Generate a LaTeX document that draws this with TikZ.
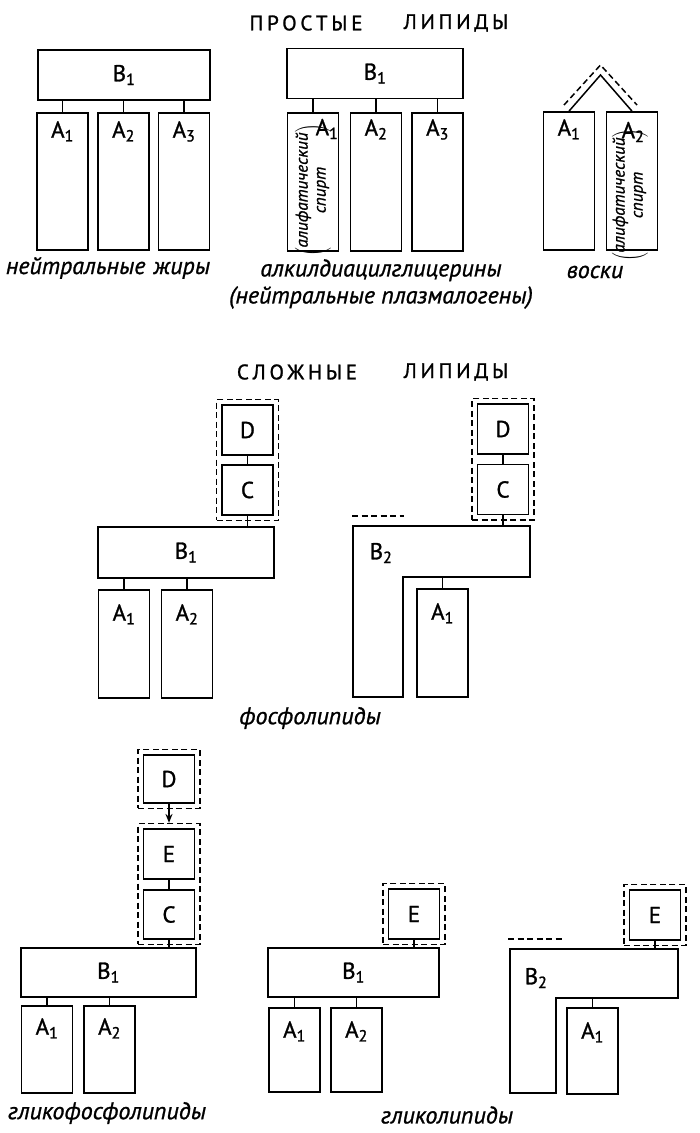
\documentclass[tikz,border=0pt]{standalone}
\usepackage{fontspec}
\setmainfont{PT Sans}
\usetikzlibrary{positioning,fit,arrows.meta}

\tikzset{
  box/.style={draw, line width=1.7pt, inner sep=0pt, minimum width=51pt, minimum height=50pt, font=\fontsize{23}{23}\selectfont\addfontfeature{FakeBold=1.2}},
  wide/.style={box, minimum width=#1},
  col/.style={box, minimum height=#1, minimum width=51pt},
  frame/.style={line width=1.7pt, line join=miter},
  bond/.style={line width=1.5pt},
  halo/.style={dash pattern=on 6pt off 3.5pt, line width=1.5pt},
  shell/.style={draw, halo, inner sep=4.5pt},
  tag/.style={inner sep=0pt, font=\fontsize{23}{23}\selectfont\addfontfeature{FakeBold=1.2}},
  caption/.style={inner sep=0pt, align=center, font=\fontsize{24}{27}\selectfont\itshape\addfontfeature{FakeBold=1}},
  heading/.style={inner sep=0pt, font=\fontsize{21}{21}\selectfont\addfontfeature{LetterSpace=18,FakeBold=1.2}},
  alc/.style={rotate=90, inner sep=0pt, font=\fontsize{17}{18}\selectfont\itshape\addfontfeature{FakeBold=1}}
}

\begin{document}
\begin{tikzpicture}[x=1pt,y=-1pt]
\useasboundingbox (0,0) rectangle (700,1133);

% простые липиды
\node[heading] (st1) at (306,23) {ПРОСТЫЕ};
\node[heading] (st2) at (456,23) {ЛИПИДЫ};

% нейтральные жиры
\node[wide=172pt] (fb) at (124,75) {B\textsubscript{1}};
\foreach \n/\x in {1/62.5,2/123.5,3/184}
{
	\node[col=137pt] (fa\n) at (\x,181.5) {};
	\node[tag, below=9pt of fa\n.north] (fa\n t) {A\textsubscript{\n}};
	\draw[bond] (fa\n.north) -- (fa\n.north |- fb.south);
}
\node[caption] (fcap) at (108,268) {нейтральные\hspace{8pt}жиры};

% плазмалогены
\node[wide=176pt] (pb) at (375,73.5) {B\textsubscript{1}};
\foreach \n/\x in {1/313,2/376,3/437.5}
{
	\node[col=138pt] (pa\n) at (\x,182) {};
	\draw[bond] (pa\n.north) -- (pa\n.north |- pb.south);
}
\node[tag] (pa1t) at (327,129) {A\textsubscript{1}};
\node[tag, below=7pt of pa2.north] (pa2t) {A\textsubscript{2}};
\node[tag, below=7pt of pa3.north] (pa3t) {A\textsubscript{3}};
\node[alc] (palc) at (313,190) {$\left(\begin{tabular}{@{}c@{}}алифатический\\спирт\end{tabular}\right)$};
\node[caption] (pcap) at (381,284) {алкилдиацилглицерины\\(нейтральные плазмалогены)};

% воски
\node[col=138pt] (wa1) at (569,181) {};
\node[col=138pt] (wa2) at (632,181) {};
\node[tag, below=8pt of wa1.north] (wa1t) {A\textsubscript{1}};
\node[tag] (wa2t) at (633,132) {A\textsubscript{2}};
\node[alc] (walc) at (630,195) {$\left(\begin{tabular}{@{}c@{}}алифатический\\спирт\end{tabular}\right)$};
\coordinate (wtop) at (600.5,75);
\draw[bond] (wa1.north) -- (wtop) -- (wa2.north);
\draw[halo] (564,105) -- (600.5,65) -- (637,105);
\node[caption] (wcap) at (595,272) {воски};

% сложные липиды
\node[heading] (ct1) at (297,372) {СЛОЖНЫЕ};
\node[heading] (ct2) at (456,372) {ЛИПИДЫ};

% фосфолипиды, B1
\node[box] (md) at (247.5,430) {D};
\node[box] (mc) at (247.5,490) {C};
\node[shell, fit=(md)(mc)] (mdc) {};
\node[wide=176pt, minimum height=51pt] (mb) at (186,552.5) {B\textsubscript{1}};
\draw[bond] (md) -- (mc);
\draw[bond] (mc.south) -- (mc.south |- mb.north);
\foreach \n/\x in {1/124,2/187}
{
	\node[col=108pt] (ma\n) at (\x,644) {};
	\node[tag, below=15pt of ma\n.north] (ma\n t) {A\textsubscript{\n}};
	\draw[bond] (ma\n.north) -- (ma\n.north |- mb.south);
}

% фосфолипиды, B2
\node[box] (nd) at (503,429) {D};
\node[box] (nc) at (503,489.5) {C};
\node[shell, fit=(nd)(nc)] (ndc) {};
\draw[frame] (353,526) -- (530,526) -- (530,577) -- (403,577) -- (403,697) -- (353,697) -- cycle;
\coordinate (nbtop) at (0,526);
\coordinate (nbarm) at (0,577);
\draw[halo] (352,516) -- (404,516);
\node[tag] (nb) at (381,553) {B\textsubscript{2}};
\node[col=108pt] (na1) at (442.5,643) {};
\node[tag, below=15pt of na1.north] (na1t) {A\textsubscript{1}};
\draw[bond] (nd) -- (nc);
\draw[bond] (nc.south) -- (nc.south |- nbtop);
\draw[bond] (na1.north) -- (na1.north |- nbarm);
\node[caption] (mcap) at (310,718) {фосфолипиды};

% гликофосфолипиды
\node[box, minimum height=48pt] (gd) at (169,779) {D};
\node[shell, fit=(gd)] (gds) {};
\node[box] (ge) at (169,854) {E};
\node[box, minimum height=49pt] (gc) at (169,914.5) {C};
\node[shell, fit=(ge)(gc)] (gec) {};
\draw[bond, -{Stealth[length=9pt,width=7pt]}] (gd.south) -- (gec.north);
\draw[bond] (ge) -- (gc);
\node[wide=175pt, minimum height=49pt] (gb) at (108.5,972.5) {B\textsubscript{1}};
\draw[bond] (gc.south) -- (gc.south |- gb.north);
\foreach \n/\x in {1/47,2/109.5}
{
	\node[col=87pt] (ga\n) at (\x,1049.5) {};
	\node[tag, below=13pt of ga\n.north] (ga\n t) {A\textsubscript{\n}};
	\draw[bond] (ga\n.north) -- (ga\n.north |- gb.south);
}
\node[caption] (gcap) at (107,1113) {гликофосфолипиды};

% гликолипиды, B1
\node[box] (le) at (414,914) {E};
\node[shell, fit=(le)] (les) {};
\node[wide=171pt, minimum height=49pt] (lb) at (353.5,972.5) {B\textsubscript{1}};
\draw[bond] (le.south) -- (le.south |- lb.north);
\foreach \n/\x in {1/294.5,2/356.5}
{
	\node[col=84pt] (la\n) at (\x,1050) {};
	\node[tag, below=14pt of la\n.north] (la\n t) {A\textsubscript{\n}};
	\draw[bond] (la\n.north) -- (la\n.north |- lb.south);
}
\node[caption] (lcap) at (447,1115) {гликолипиды};

% гликолипиды, B2
\node[box] (re) at (655,915) {E};
\node[shell, fit=(re)] (res) {};
\draw[frame] (510,949) -- (678,949) -- (678,998) -- (556,998) -- (556,1093) -- (510,1093) -- cycle;
\coordinate (rbtop) at (0,949);
\coordinate (rbarm) at (0,998);
\draw[halo] (508,939) -- (563,939);
\node[tag] (rb) at (536,978) {B\textsubscript{2}};
\node[col=86pt] (ra1) at (592.5,1051) {};
\node[tag, below=15pt of ra1.north] (ra1t) {A\textsubscript{1}};
\draw[bond] (re.south) -- (re.south |- rbtop);
\draw[bond] (ra1.north) -- (ra1.north |- rbarm);
\end{tikzpicture}
\end{document}
